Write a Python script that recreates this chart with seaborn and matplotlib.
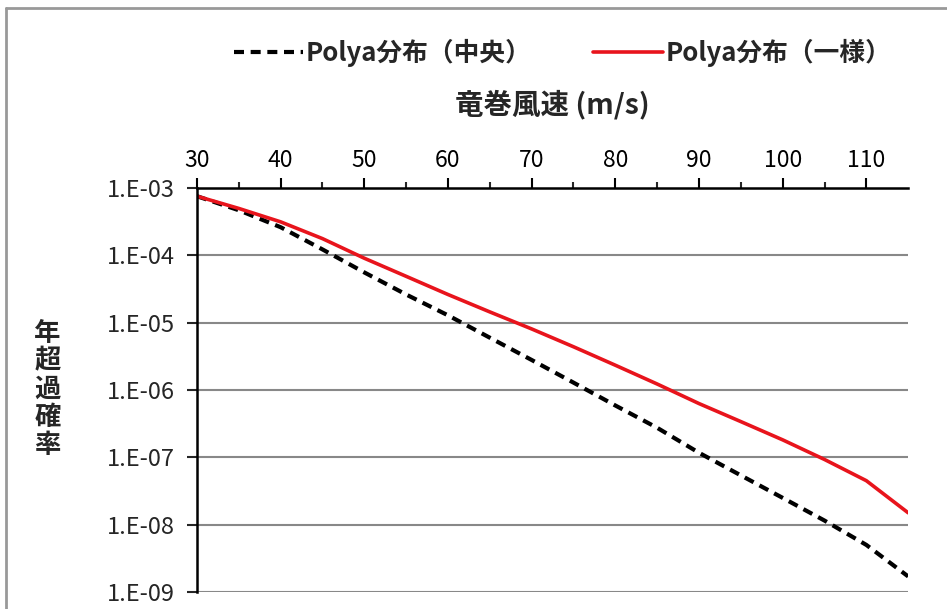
import numpy as np
import pandas as pd
import seaborn as sns
import matplotlib
matplotlib.use('Agg')
import matplotlib.pyplot as plt
from matplotlib.ticker import FixedLocator, FuncFormatter
from matplotlib.lines import Line2D

# data
speed = [30, 35, 40, 45, 50, 55, 60, 65, 70, 75, 80, 85, 90, 95, 100, 105, 110, 115]
polya_center = [7.6e-4, 4.7e-4, 2.63e-4, 1.23e-4, 5.6e-5, 2.63e-5, 1.29e-5, 6.0e-6,
                2.8e-6, 1.29e-6, 5.9e-7, 2.75e-7, 1.17e-7, 5.4e-8, 2.5e-8, 1.15e-8,
                5.0e-9, 1.7e-9]
polya_uniform = [7.6e-4, 5.0e-4, 3.16e-4, 1.78e-4, 9.1e-5, 4.9e-5, 2.63e-5, 1.45e-5,
                 8.1e-6, 4.4e-6, 2.34e-6, 1.23e-6, 6.3e-7, 3.4e-7, 1.82e-7, 9.3e-8,
                 4.5e-8, 1.5e-8]
label_center = 'Polya分布（中央）'
label_uniform = 'Polya分布（一様）'
x_ticks = [30, 40, 50, 60, 70, 80, 90, 100, 110]
y_ticks = [1e-3, 1e-4, 1e-5, 1e-6, 1e-7, 1e-8, 1e-9]

df = pd.DataFrame({'speed': speed, 'center': polya_center, 'uniform': polya_uniform})

sns.set_style('white')
plt.rcParams['font.family'] = ['Noto Sans CJK JP', 'DejaVu Sans']

fig = plt.figure(figsize=(9.47, 6.09), dpi=100)
ax = fig.add_axes([0.208, 0.028, 0.751, 0.663])

sns.lineplot(data=df, x='speed', y='center', ax=ax, color='black', linewidth=3,
             linestyle=(0, (2.4, 1.6)))
sns.lineplot(data=df, x='speed', y='uniform', ax=ax, color='#e8141c', linewidth=2.6)

ax.set_yscale('log')
ax.set_ylim(1e-9, 1e-3)
ax.set_xlim(30, 115)

# x axis on top
ax.xaxis.tick_top()
ax.xaxis.set_label_position('top')
ax.xaxis.set_major_locator(FixedLocator(x_ticks))
ax.xaxis.set_minor_locator(FixedLocator(np.arange(35, 115, 10)))
ax.tick_params(axis='x', which='major', direction='out', length=7, width=1.5,
               labelsize=16.5, pad=5, colors='black')
ax.tick_params(axis='x', which='minor', direction='out', length=4, width=1.5, top=True)

ax.yaxis.set_major_locator(FixedLocator(y_ticks))
ax.yaxis.set_minor_locator(FixedLocator([]))
ax.yaxis.set_major_formatter(FuncFormatter(lambda v, p: '1.E-%02d' % round(-np.log10(v))))
ax.tick_params(axis='y', which='major', direction='out', length=7, width=1.5,
               labelsize=17, pad=9, left=True)

ax.grid(axis='y', color='#888888', linewidth=1.5)
ax.set_axisbelow(True)
for s in ['right', 'bottom']:
    ax.spines[s].set_visible(False)
for s in ['left', 'top']:
    ax.spines[s].set_color('black')
    ax.spines[s].set_linewidth(1.8)

ax.set_xlabel('竜巻風速 (m/s)', fontsize=20.5, fontweight='bold')
ax.xaxis.set_label_coords(0.5, 1.208)
ax.xaxis.label.set_va('center')
ax.set_ylabel('')
fig.text(0.05, 0.361, '年\n超\n過\n確\n率', fontsize=19, fontweight='bold',
         ha='center', va='center', linespacing=1.05)

handles = [Line2D([], [], color='black', linewidth=3, linestyle=(0, (2.4, 1.6))),
           Line2D([], [], color='#e8141c', linewidth=2.6)]
fig.legend(handles, [label_center, label_uniform], loc='center',
           bbox_to_anchor=(0.594, 0.913), ncol=2, frameon=False,
           prop={'size': 18.5, 'weight': 'bold'}, handlelength=2.7,
           handletextpad=0.1, columnspacing=2.4)

# chart border (left and top edges visible)
fig.add_artist(Line2D([6 / 947, 6 / 947], [0, 1 - 8 / 609], transform=fig.transFigure,
                      color='#999999', linewidth=2))
fig.add_artist(Line2D([6 / 947, 1], [1 - 8 / 609, 1 - 8 / 609], transform=fig.transFigure,
                      color='#999999', linewidth=2))

fig.savefig('out.png', dpi=100)
